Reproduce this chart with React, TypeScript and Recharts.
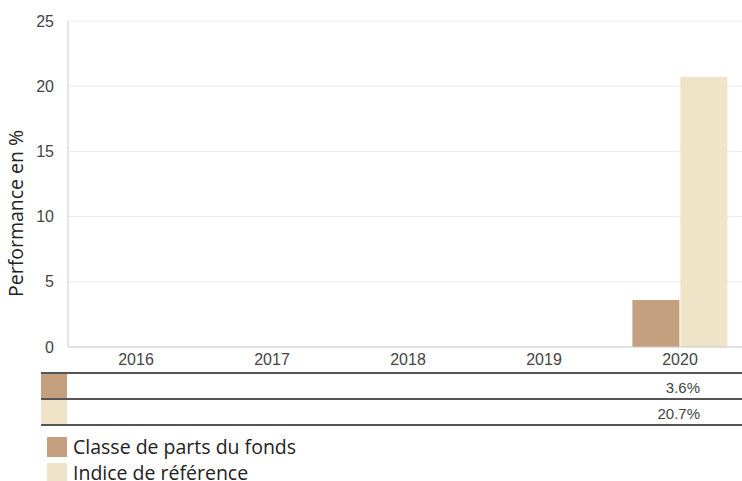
import { BarChart, Bar, XAxis, YAxis, CartesianGrid } from 'recharts'

const years = ['2016', '2017', '2018', '2019', '2020']
const fundValues: (number | null)[] = [null, null, null, null, 3.6]
const indexValues: (number | null)[] = [null, null, null, null, 20.7]
const yTicks = [0, 5, 10, 15, 20, 25]

const FUND = 'Classe de parts du fonds'
const INDEX = 'Indice de référence'
const FUND_COLOR = '#c4a07f'
const INDEX_COLOR = '#efe3c8'
const ARIAL = "'Liberation Sans', Arial, sans-serif"

const data = years.map((year, i) => ({ year, fund: fundValues[i], index: indexValues[i] }))

const fmt = (v: number | null) => (v == null ? '' : `${v.toFixed(1)}%`)

const RowTick = ({ x, y, index, values }: any) => (
  <text x={x + 20} y={y + 13} dy="0.35em" textAnchor="end" fill="#444" fontSize={15} fontFamily={ARIAL}>
    {fmt(values[index])}
  </text>
)

const line = (top: number) => (
  <div style={{ position: 'absolute', left: 41, width: 701, top, height: 2, background: '#555' }} />
)

export default function App() {
  return (
    <div style={{ position: 'absolute', left: 0, top: 0, width: 742, height: 481, background: '#fff' }}>
      <BarChart width={742} height={427} data={data} barGap={1} barCategoryGap="15%"
        margin={{ top: 21, right: -6, left: 0, bottom: 2 }}>
        <CartesianGrid vertical={false} stroke="#ececec" />
        <XAxis dataKey="year" xAxisId={0} height={26} axisLine={{ stroke: '#ccc' }} tickLine={false}
          tick={{ fill: '#444', fontSize: 16, fontFamily: ARIAL }} tickMargin={1} />
        <XAxis dataKey="year" xAxisId="fundRow" height={26} axisLine={false} tickLine={false} tickSize={0}
          tick={<RowTick values={fundValues} />} />
        <XAxis dataKey="year" xAxisId="indexRow" height={26} axisLine={false} tickLine={false} tickSize={0}
          tick={<RowTick values={indexValues} />} />
        <YAxis width={68} domain={[0, 25]} ticks={yTicks} axisLine={{ stroke: '#ccc' }} tickLine={false}
          tickMargin={8}
          tick={{ fill: '#444', fontSize: 16, fontFamily: ARIAL }}
          label={{ value: 'Performance en %', angle: -90, position: 'insideLeft', dx: 11, dy: 113,
            style: { fill: '#222', fontSize: 19.5, fontFamily: "'Open Sans', sans-serif" } }} />
        <Bar dataKey="fund" name={FUND} fill={FUND_COLOR} isAnimationActive={false} />
        <Bar dataKey="index" name={INDEX} fill={INDEX_COLOR} isAnimationActive={false} />
      </BarChart>
      {line(372)}
      {line(398)}
      {line(424)}
      <div style={{ position: 'absolute', left: 41, top: 374, width: 26, height: 24, background: FUND_COLOR }} />
      <div style={{ position: 'absolute', left: 41, top: 400, width: 26, height: 24, background: INDEX_COLOR }} />
      <div style={{ position: 'absolute', left: 47, top: 434, fontFamily: "'Open Sans', sans-serif", fontSize: 19.5, color: '#222' }}>
        {[{ name: FUND, color: FUND_COLOR }, { name: INDEX, color: INDEX_COLOR }].map(item => (
          <div key={item.name} style={{ display: 'flex', alignItems: 'center', height: 26 }}>
            <span style={{ width: 20, height: 20, background: item.color, marginRight: 6 }} />
            <span style={{ lineHeight: '26px' }}>{item.name}</span>
          </div>
        ))}
      </div>
    </div>
  )
}
